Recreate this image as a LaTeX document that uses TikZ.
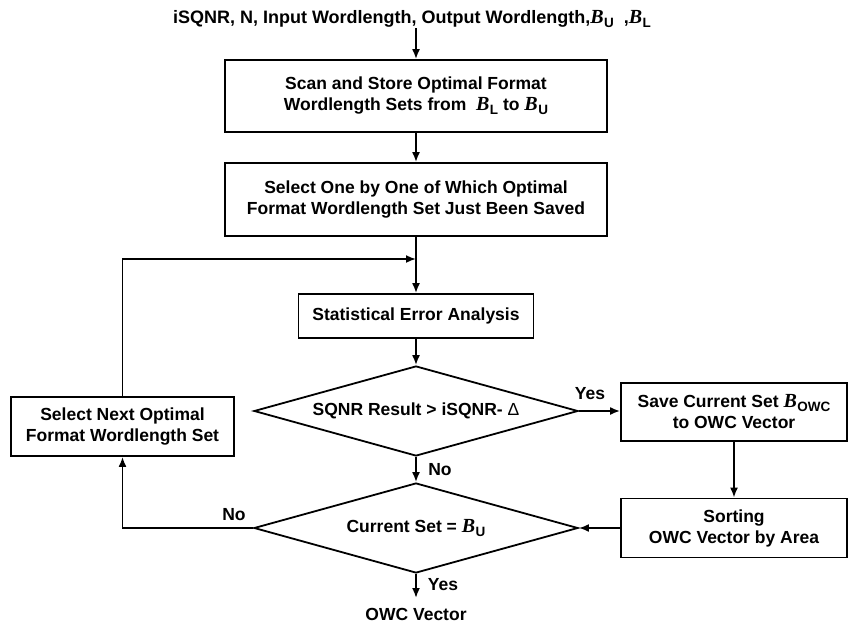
\documentclass[tikz,border=0pt]{standalone}
\usepackage{fontspec}
\setmainfont{Liberation Sans}
\newfontfamily\tnrfont{Liberation Serif}
\usetikzlibrary{arrows.meta,shapes.geometric}
\newcommand\Bv[1]{{\tnrfont\fontsize{20}{21}\selectfont\bfseries\itshape B}\kern0.5pt\raisebox{-3.5pt}{\fontsize{13.5}{14}\selectfont\bfseries #1}}
\begin{document}
\begin{tikzpicture}[x=1pt,y=-1pt, line width=1.8pt,
  every node/.style={font=\fontsize{17.5}{21}\selectfont\bfseries, align=center},
  box/.style={draw, rectangle, inner sep=0pt},
  dia/.style={draw, diamond, aspect=3.6, inner sep=0pt, minimum width=324pt, minimum height=90pt},
  arr/.style={-{Latex[length=10pt,width=8pt]}},
  lbl/.style={inner sep=0pt}]
\useasboundingbox (0,0) rectangle (848,623);

\node[lbl, font=\fontsize{18}{21}\selectfont\bfseries] (in) at (412,19) {iSQNR, N, Input Wordlength, Output Wordlength,\Bv{U}\hspace{10pt},\Bv{L}};
\node[box, minimum width=382pt, minimum height=72pt] (b1) at (416,96) {Scan and Store Optimal Format\\Wordlength Sets from \ \Bv{L} to \Bv{U}};
\node[box, minimum width=382pt, minimum height=73pt] (b2) at (416,199.5) {Select One by One of Which Optimal\\Format Wordlength Set Just Been Saved};
\node[box, minimum width=235pt, minimum height=44pt] (b3) at (416,316) {Statistical Error Analysis};
\node[dia] (d1) at (416,411) {SQNR Result > iSQNR- {\mdseries Δ}};
\node[box, minimum width=226pt, minimum height=58pt] (b4) at (734,412) {Save Current Set \Bv{OWC}\\to OWC Vector};
\node[box, minimum width=226pt, minimum height=59pt] (b5) at (734,528) {Sorting\\OWC Vector by Area};
\node[dia] (d2) at (416,528) {Current Set = \Bv{U}};
\node[box, minimum width=223pt, minimum height=59pt] (lb) at (122.5,426.5) {Select Next Optimal\\Format Wordlength Set};
\node[lbl] (out) at (416,614) {OWC Vector};
\coordinate (merge) at (416,259);
\coordinate (outin) at (416,598);

\node[lbl] (yes1) at (590,394) {Yes};
\node[lbl] (no1) at (440,470) {No};
\node[lbl] (yes2) at (443,585) {Yes};
\node[lbl] (no2) at (234,515) {No};

\draw[arr] (in.south -| b1.north) -- (b1.north);
\draw[arr] (b1.south) -- (b2.north);
\draw[arr] (b2.south) -- (b3.north);
\draw[arr] (lb.north) |- (merge);
\draw[arr] (b3.south) -- (d1.north);
\draw[arr] (d1.east) -- (d1.east -| b4.west);
\draw[arr] (d1.south) -- (d2.north);
\draw[arr] (b4.south) -- (b5.north);
\draw[arr] (b5.west) -- (d2.east);
\draw[arr] (d2.west) -| (lb.south);
\draw[arr] (d2.south) -- (outin);
\end{tikzpicture}
\end{document}
